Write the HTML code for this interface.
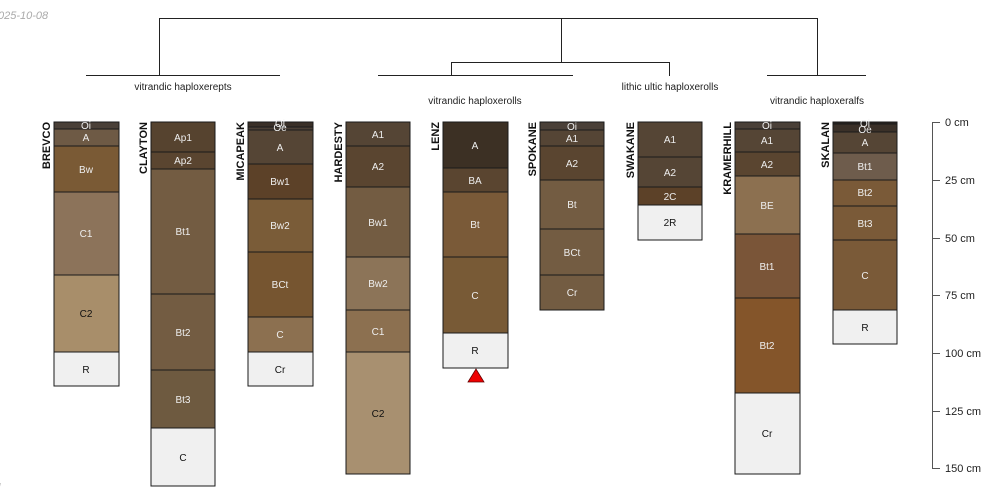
<!DOCTYPE html>
<html><head><meta charset="utf-8"><style>
html,body{margin:0;padding:0;background:#fff;width:1000px;height:500px;overflow:hidden}
svg{font-family:"Liberation Sans",sans-serif}
</style></head><body>
<svg width="1000" height="500" xmlns="http://www.w3.org/2000/svg">
<text x="-2" y="19" font-size="11" fill="#aaa" font-style="italic">025-10-08</text>
<text x="-2" y="491" font-size="11" fill="#aaa" font-style="italic">l</text>
<g stroke="#222" stroke-width="1" fill="none">
<path d="M159 18.5H561.5M159.5 18V76M561.5 18V62M451 62.5H670M451.5 62V76M669.5 62V76M561.5 18.5H817.5M817.5 18V76M86 75.5H280M378 75.5H573M767 75.5H866"/>
</g>
<g font-size="10" fill="#222" text-anchor="middle">
<text x="183" y="90">vitrandic haploxerepts</text>
<text x="475" y="104">vitrandic haploxerolls</text>
<text x="670" y="90">lithic ultic haploxerolls</text>
<text x="817" y="104">vitrandic haploxeralfs</text>
</g>
<g font-size="11" font-weight="bold" fill="#111" text-anchor="end">
<text transform="translate(50,122) rotate(-90)">BREVCO</text>
<text transform="translate(147,122) rotate(-90)">CLAYTON</text>
<text transform="translate(244,122) rotate(-90)">MICAPEAK</text>
<text transform="translate(342,122) rotate(-90)">HARDESTY</text>
<text transform="translate(439,122) rotate(-90)">LENZ</text>
<text transform="translate(536,122) rotate(-90)">SPOKANE</text>
<text transform="translate(634,122) rotate(-90)">SWAKANE</text>
<text transform="translate(731,122) rotate(-90)">KRAMERHILL</text>
<text transform="translate(829,122) rotate(-90)">SKALAN</text>
</g>
<g stroke="#1a1a1a" stroke-width="1">
<!-- BREVCO -->
<rect x="54" y="122" width="65" height="7" fill="#4a4038"/>
<rect x="54" y="129" width="65" height="17" fill="#6e5a45"/>
<rect x="54" y="146" width="65" height="46" fill="#7a5a35"/>
<rect x="54" y="192" width="65" height="83" fill="#8c735a"/>
<rect x="54" y="275" width="65" height="77" fill="#a88e6a"/>
<rect x="54" y="352" width="65" height="34" fill="#f0f0f0"/>
<!-- CLAYTON -->
<rect x="151" y="122" width="64" height="30" fill="#56432f"/>
<rect x="151" y="152" width="64" height="17" fill="#5a4530"/>
<rect x="151" y="169" width="64" height="125" fill="#735c42"/>
<rect x="151" y="294" width="64" height="76" fill="#735c42"/>
<rect x="151" y="370" width="64" height="58" fill="#6e5a40"/>
<rect x="151" y="428" width="64" height="58" fill="#f0f0f0"/>
<!-- MICAPEAK -->
<rect x="248" y="122" width="65" height="5" fill="#3a3028"/>
<rect x="248" y="127" width="65" height="3" fill="#4a3f35"/>
<rect x="248" y="130" width="65" height="34" fill="#554535"/>
<rect x="248" y="164" width="65" height="35" fill="#5c4128"/>
<rect x="248" y="199" width="65" height="53" fill="#7a5c38"/>
<rect x="248" y="252" width="65" height="65" fill="#765530"/>
<rect x="248" y="317" width="65" height="35" fill="#8c7050"/>
<rect x="248" y="352" width="65" height="34" fill="#f0f0f0"/>
<!-- HARDESTY -->
<rect x="346" y="122" width="64" height="24" fill="#554535"/>
<rect x="346" y="146" width="64" height="41" fill="#5a4530"/>
<rect x="346" y="187" width="64" height="70" fill="#735c42"/>
<rect x="346" y="257" width="64" height="53" fill="#8c7458"/>
<rect x="346" y="310" width="64" height="42" fill="#8c7050"/>
<rect x="346" y="352" width="64" height="122" fill="#a89070"/>
<!-- LENZ -->
<rect x="443" y="122" width="65" height="46" fill="#3c3024"/>
<rect x="443" y="168" width="65" height="24" fill="#5a4530"/>
<rect x="443" y="192" width="65" height="65" fill="#7a5a38"/>
<rect x="443" y="257" width="65" height="76" fill="#785a36"/>
<rect x="443" y="333" width="65" height="35" fill="#f0f0f0"/>
<!-- SPOKANE -->
<rect x="540" y="122" width="64" height="8" fill="#4a4038"/>
<rect x="540" y="130" width="64" height="16" fill="#554535"/>
<rect x="540" y="146" width="64" height="34" fill="#5a4530"/>
<rect x="540" y="180" width="64" height="49" fill="#735c42"/>
<rect x="540" y="229" width="64" height="46" fill="#735c42"/>
<rect x="540" y="275" width="64" height="35" fill="#735c42"/>
<!-- SWAKANE -->
<rect x="638" y="122" width="64" height="35" fill="#554535"/>
<rect x="638" y="157" width="64" height="30" fill="#554535"/>
<rect x="638" y="187" width="64" height="18" fill="#5c4128"/>
<rect x="638" y="205" width="64" height="35" fill="#f0f0f0"/>
<!-- KRAMERHILL -->
<rect x="735" y="122" width="65" height="7" fill="#4a4038"/>
<rect x="735" y="129" width="65" height="23" fill="#554535"/>
<rect x="735" y="152" width="65" height="24" fill="#5a4530"/>
<rect x="735" y="176" width="65" height="58" fill="#8c7050"/>
<rect x="735" y="234" width="65" height="64" fill="#7a5538"/>
<rect x="735" y="298" width="65" height="95" fill="#84552a"/>
<rect x="735" y="393" width="65" height="81" fill="#f0f0f0"/>
<!-- SKALAN -->
<rect x="833" y="122" width="64" height="2" fill="#2a2420"/>
<rect x="833" y="124" width="64" height="8" fill="#3a3028"/>
<rect x="833" y="132" width="64" height="21" fill="#554535"/>
<rect x="833" y="153" width="64" height="27" fill="#6e5c4c"/>
<rect x="833" y="180" width="64" height="26" fill="#7a5a38"/>
<rect x="833" y="206" width="64" height="34" fill="#7a5a38"/>
<rect x="833" y="240" width="64" height="70" fill="#7a5a38"/>
<rect x="833" y="310" width="64" height="34" fill="#f0f0f0"/>
</g>
<polygon points="468,382 476,369 484,382" fill="#e00" stroke="#600" stroke-width="0.8"/>
<g font-size="10" text-anchor="middle" fill="#eee">
<text x="86" y="129">Oi</text><text x="86" y="141">A</text><text x="86" y="173">Bw</text><text x="86" y="237">C1</text>
<text x="86" y="317" fill="#111">C2</text><text x="86" y="373" fill="#111">R</text>
<text x="183" y="141">Ap1</text><text x="183" y="164">Ap2</text><text x="183" y="235">Bt1</text><text x="183" y="336">Bt2</text><text x="183" y="403">Bt3</text><text x="183" y="461" fill="#111">C</text>
<text x="280" y="127">Oi</text><text x="280" y="131">Oe</text><text x="280" y="151">A</text><text x="280" y="185">Bw1</text><text x="280" y="229">Bw2</text><text x="280" y="288">BCt</text><text x="280" y="338">C</text><text x="280" y="373" fill="#111">Cr</text>
<text x="378" y="138">A1</text><text x="378" y="170">A2</text><text x="378" y="226">Bw1</text><text x="378" y="287">Bw2</text><text x="378" y="335">C1</text><text x="378" y="417" fill="#111">C2</text>
<text x="475" y="149">A</text><text x="475" y="184">BA</text><text x="475" y="228">Bt</text><text x="475" y="299">C</text><text x="475" y="354" fill="#111">R</text>
<text x="572" y="130">Oi</text><text x="572" y="142">A1</text><text x="572" y="167">A2</text><text x="572" y="208">Bt</text><text x="572" y="256">BCt</text><text x="572" y="296">Cr</text>
<text x="670" y="143">A1</text><text x="670" y="176">A2</text><text x="670" y="200">2C</text><text x="670" y="226" fill="#111">2R</text>
<text x="767" y="129">Oi</text><text x="767" y="144">A1</text><text x="767" y="168">A2</text><text x="767" y="209">BE</text><text x="767" y="270">Bt1</text><text x="767" y="349">Bt2</text><text x="767" y="437" fill="#111">Cr</text>
<text x="865" y="127">Oi</text><text x="865" y="133">Oe</text><text x="865" y="146">A</text><text x="865" y="170">Bt1</text><text x="865" y="196">Bt2</text><text x="865" y="227">Bt3</text><text x="865" y="279">C</text><text x="865" y="331" fill="#111">R</text>
</g>
<g stroke="#555" stroke-width="1">
<path d="M932.5 122V468M932 122.5H940M932 180.5H940M932 238.5H940M932 295.5H940M932 353.5H940M932 411.5H940M932 468.5H940"/>
</g>
<g font-size="11" fill="#222">
<text x="945" y="126">0 cm</text><text x="945" y="184">25 cm</text><text x="945" y="242">50 cm</text><text x="945" y="299">75 cm</text><text x="945" y="357">100 cm</text><text x="945" y="415">125 cm</text><text x="945" y="472">150 cm</text>
</g>
</svg>
</body></html>
